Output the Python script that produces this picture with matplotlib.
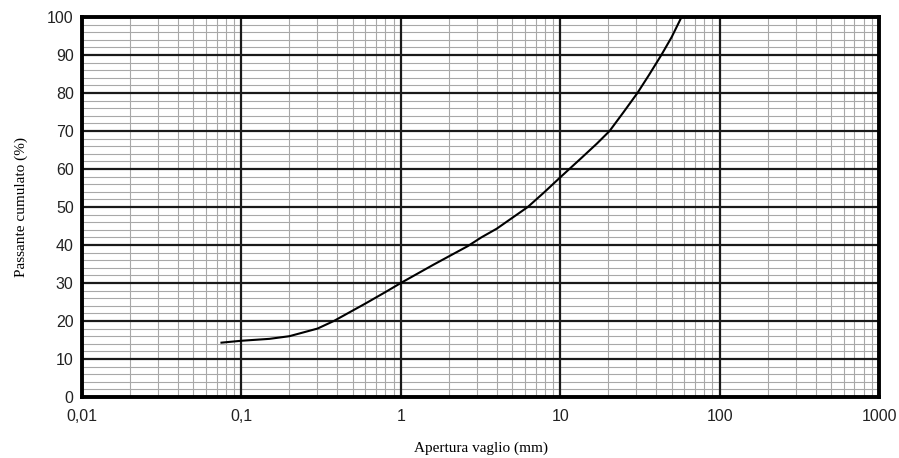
import numpy as np
import matplotlib.pyplot as plt
from matplotlib.ticker import FixedLocator, LogLocator, MultipleLocator, NullFormatter

# grading curve
aperture = [0.075, 0.1, 0.15, 0.2, 0.3, 0.38, 0.6, 0.8, 1.0, 1.6, 2.63, 3.2, 4.0,
            6.26, 8.0, 10.0, 13.5, 17.0, 20.4, 25.0, 30.5, 36.0, 43.1, 50.0, 57.7]
passing = [14.3, 14.8, 15.3, 16.0, 18.0, 20.0, 24.6, 27.6, 30.0, 34.8, 39.7, 42.0, 44.3,
           50.0, 54.0, 57.8, 62.8, 66.7, 70.0, 75.0, 80.0, 84.7, 90.0, 94.7, 100.0]

xticks = [0.01, 0.1, 1, 10, 100, 1000]
xticklabels = ['0,01', '0,1', '1', '10', '100', '1000']
yticks = list(range(0, 101, 10))

fig = plt.figure(figsize=(8.99, 4.58), dpi=100)
pos = [0.0912, 0.1332, 0.8866, 0.8297]
ax = fig.add_axes(pos)
# second axes on top only for the dark grid, so the light grid never cuts it
top = fig.add_axes(pos, sharex=ax, sharey=ax)
top.patch.set_visible(False)

ax.set_xscale('log')
ax.set_xlim(0.01, 1000)
ax.set_ylim(0, 100)

ax.xaxis.set_major_locator(FixedLocator(xticks))
ax.xaxis.set_minor_locator(LogLocator(base=10, subs=np.arange(2, 10)))
ax.xaxis.set_minor_formatter(NullFormatter())
ax.set_xticklabels(xticklabels)
ax.set_yticks(yticks)
ax.yaxis.set_minor_locator(MultipleLocator(2))

ax.grid(True, which='minor', color='#a8a8a8', linewidth=0.8)
ax.grid(False, which='major')
top.grid(True, which='major', color='#1a1a1a', linewidth=1.6)
top.grid(False, which='minor')
top.tick_params(which='both', length=0, labelbottom=False, labelleft=False)

top.plot(aperture, passing, color='black', linewidth=1.5, zorder=3)

for s in ax.spines.values():
    s.set_visible(False)
for s in top.spines.values():
    s.set_linewidth(2.8)
    s.set_color('black')

ax.tick_params(which='both', length=0)
ax.tick_params(axis='x', pad=9, labelsize=11.5)
ax.tick_params(axis='y', pad=6, labelsize=11.5)
for lab in ax.get_xticklabels() + ax.get_yticklabels():
    lab.set_family('Liberation Sans')
    lab.set_color('#222222')

ax.set_xlabel('Apertura vaglio (mm)', family='Liberation Serif', fontsize=11, labelpad=12)
ax.set_ylabel('Passante cumulato (%)', family='Liberation Serif', fontsize=11, labelpad=14)

fig.savefig('out.png', dpi=100)
